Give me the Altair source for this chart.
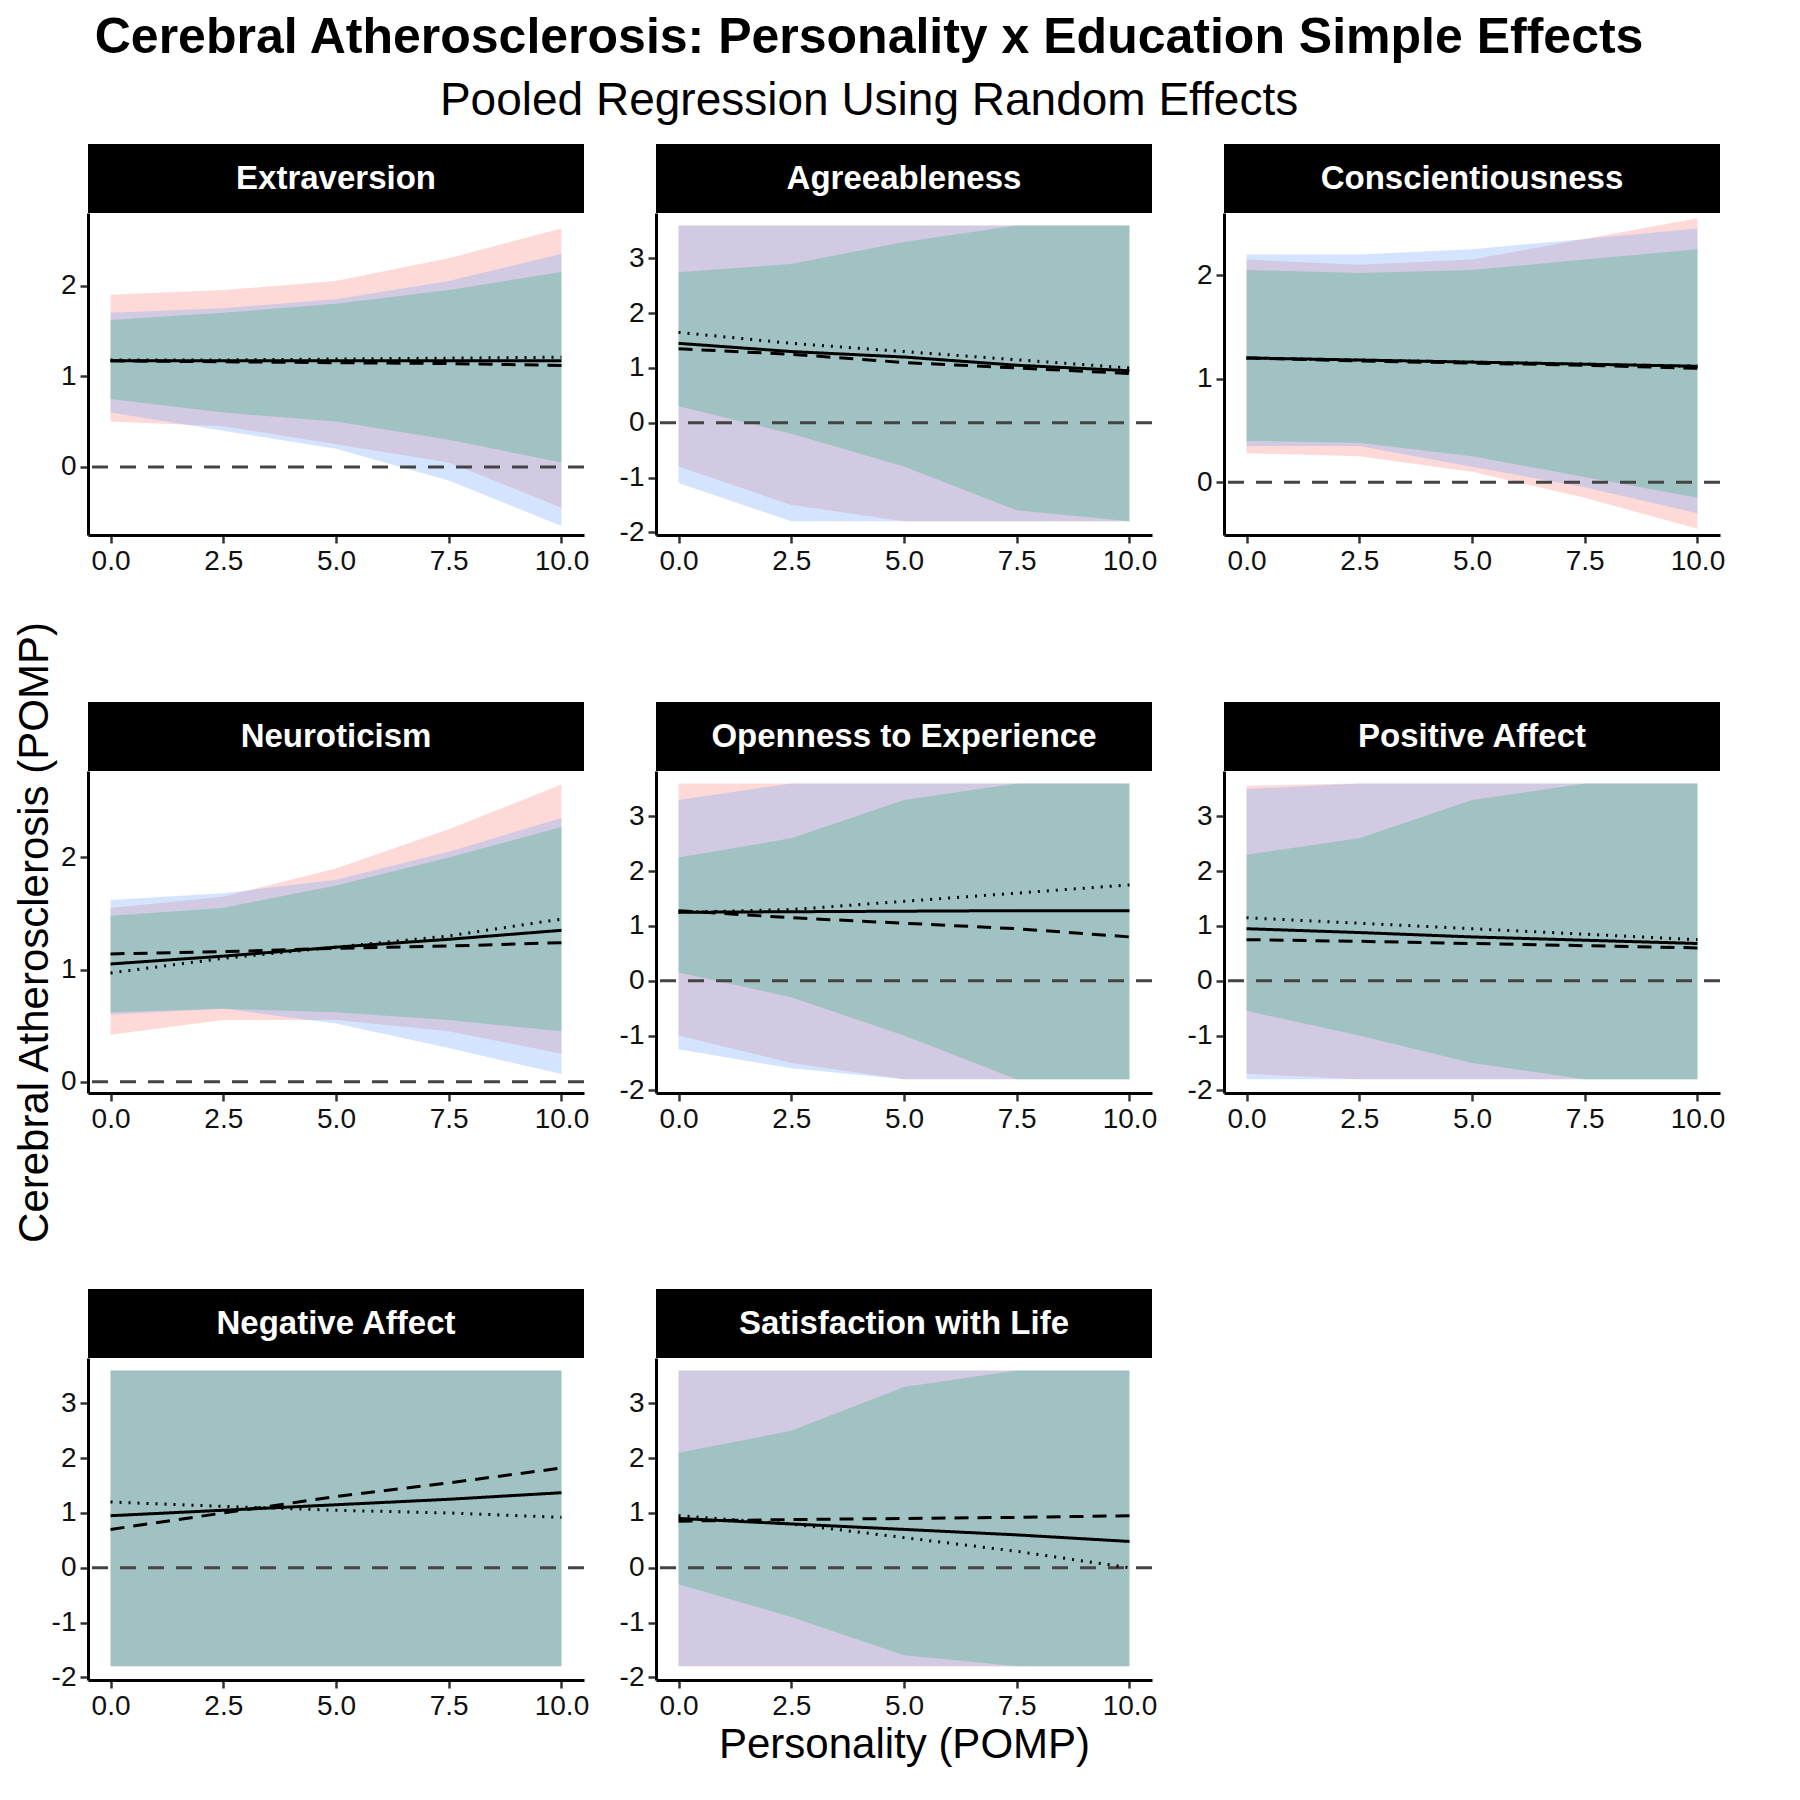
import altair as alt
import numpy as np
import pandas as pd

# x grid of the fitted lines / bands
xs = [0, 2.5, 5, 7.5, 10]
groups = ["-5 yrs", "12 years", "+5 yrs"]
fills = ["#F8766D", "#00BA38", "#619CFF"]
dashes = [[2, 7], [1, 0], [14, 9]]

panels = ["Extraversion", "Agreeableness", "Conscientiousness", "Neuroticism",
          "Openness to Experience", "Positive Affect", "Negative Affect",
          "Satisfaction with Life"]

# per panel: {group: (estimate, lower, upper)}
fits = {
    "Extraversion": {
        "-5 yrs": ([1.18, 1.18, 1.19, 1.20, 1.21], [0.50, 0.45, 0.25, 0.05, -0.45], [1.90, 1.95, 2.05, 2.30, 2.63]),
        "12 years": ([1.17, 1.17, 1.17, 1.17, 1.17], [0.75, 0.60, 0.50, 0.30, 0.05], [1.62, 1.70, 1.80, 1.95, 2.15]),
        "+5 yrs": ([1.17, 1.16, 1.15, 1.14, 1.12], [0.60, 0.40, 0.20, -0.15, -0.65], [1.70, 1.75, 1.85, 2.05, 2.35]),
    },
    "Agreeableness": {
        "-5 yrs": ([1.65, 1.45, 1.30, 1.15, 1.00], [-0.80, -1.50, -2.50, -3.00, -3.50], [4.50, 4.80, 5.00, 5.50, 6.00]),
        "12 years": ([1.45, 1.30, 1.20, 1.05, 0.95], [0.30, -0.20, -0.80, -1.60, -2.50], [2.75, 2.90, 3.30, 3.70, 4.00]),
        "+5 yrs": ([1.35, 1.25, 1.10, 1.00, 0.90], [-1.10, -1.80, -2.60, -3.20, -3.80], [4.50, 4.80, 5.00, 5.50, 6.00]),
    },
    "Conscientiousness": {
        "-5 yrs": ([1.20, 1.18, 1.16, 1.14, 1.12], [0.28, 0.25, 0.10, -0.15, -0.45], [2.15, 2.10, 2.15, 2.35, 2.55]),
        "12 years": ([1.20, 1.18, 1.16, 1.14, 1.12], [0.40, 0.38, 0.25, 0.05, -0.15], [2.05, 2.02, 2.05, 2.15, 2.25]),
        "+5 yrs": ([1.20, 1.17, 1.15, 1.13, 1.10], [0.35, 0.35, 0.15, -0.05, -0.30], [2.20, 2.20, 2.25, 2.35, 2.45]),
    },
    "Neuroticism": {
        "-5 yrs": ([0.97, 1.10, 1.20, 1.30, 1.45], [0.42, 0.55, 0.55, 0.45, 0.25], [1.55, 1.65, 1.90, 2.25, 2.65]),
        "12 years": ([1.05, 1.12, 1.20, 1.27, 1.35], [0.62, 0.65, 0.62, 0.55, 0.45], [1.48, 1.55, 1.75, 2.00, 2.27]),
        "+5 yrs": ([1.14, 1.16, 1.19, 1.21, 1.24], [0.60, 0.65, 0.52, 0.30, 0.07], [1.62, 1.68, 1.80, 2.05, 2.35]),
    },
    "Openness to Experience": {
        "-5 yrs": ([1.25, 1.30, 1.45, 1.60, 1.75], [-1.00, -1.50, -2.20, -3.00, -3.50], [4.00, 4.50, 5.00, 5.50, 6.00]),
        "12 years": ([1.25, 1.26, 1.27, 1.28, 1.28], [0.15, -0.30, -1.00, -1.80, -2.50], [2.25, 2.60, 3.30, 3.90, 4.50]),
        "+5 yrs": ([1.28, 1.15, 1.05, 0.95, 0.80], [-1.25, -1.60, -2.40, -3.00, -3.50], [3.30, 3.60, 4.00, 4.50, 5.00]),
    },
    "Positive Affect": {
        "-5 yrs": ([1.15, 1.05, 0.95, 0.85, 0.75], [-1.70, -2.30, -2.80, -3.30, -3.80], [3.56, 4.00, 4.50, 5.00, 5.50]),
        "12 years": ([0.95, 0.88, 0.80, 0.74, 0.68], [-0.55, -1.00, -1.50, -2.00, -2.50], [2.30, 2.60, 3.30, 3.80, 4.30]),
        "+5 yrs": ([0.75, 0.72, 0.68, 0.64, 0.60], [-1.90, -2.40, -2.90, -3.40, -3.90], [3.50, 3.70, 4.20, 4.70, 5.20]),
    },
    "Negative Affect": {
        "-5 yrs": ([1.20, 1.12, 1.05, 1.00, 0.92], [-3.0, -3.0, -3.0, -3.0, -3.0], [5.0, 5.0, 5.0, 5.0, 5.0]),
        "12 years": ([0.95, 1.05, 1.15, 1.25, 1.37], [-3.0, -3.0, -3.0, -3.0, -3.0], [5.0, 5.0, 5.0, 5.0, 5.0]),
        "+5 yrs": ([0.70, 1.00, 1.30, 1.55, 1.82], [-3.0, -3.0, -3.0, -3.0, -3.0], [5.0, 5.0, 5.0, 5.0, 5.0]),
    },
    "Satisfaction with Life": {
        "-5 yrs": ([0.95, 0.80, 0.55, 0.30, 0.00], [-2.50, -3.00, -3.50, -4.00, -4.50], [4.50, 5.00, 5.50, 6.00, 6.50]),
        "12 years": ([0.90, 0.80, 0.70, 0.60, 0.48], [-0.30, -0.90, -1.60, -2.40, -3.00], [2.10, 2.50, 3.30, 3.80, 4.50]),
        "+5 yrs": ([0.85, 0.88, 0.90, 0.92, 0.95], [-2.50, -3.00, -3.50, -4.00, -4.50], [4.50, 5.00, 5.50, 6.00, 6.50]),
    },
}

# y axis domain and ticks per panel
wide = ([-2.05, 3.83], [-2, -1, 0, 1, 2, 3])
ydomains = {
    "Extraversion": ([-0.75, 2.8], [0, 1, 2]),
    "Agreeableness": wide,
    "Conscientiousness": ([-0.51, 2.6], [0, 1, 2]),
    "Neuroticism": ([-0.1, 2.77], [0, 1, 2]),
    "Openness to Experience": wide,
    "Positive Affect": wide,
    "Negative Affect": wide,
    "Satisfaction with Life": wide,
}

W, H, STRIP = 496, 322, 69
FONT = "Liberation Sans"
OPA = 0.27


def make_panel(i, name):
    rows = []
    for g in groups:
        est, lo, hi = fits[name][g]
        for x, e, l, h in zip(xs, est, lo, hi):
            rows.append({"x": x, "grp": g, "est": e,
                         "lo": float(np.clip(l, -1.8, 3.6)),
                         "hi": float(np.clip(h, -1.8, 3.6))})
    df = pd.DataFrame(rows)
    dom, ticks = ydomains[name]

    xaxis = alt.Axis(values=xs, format=".1f", title="Personality (POMP)" if i == 7 else None)
    yaxis = alt.Axis(values=ticks, labelExpr="toString(datum.value)",
                     title="Cerebral Atherosclerosis (POMP)" if i == 3 else None)
    xenc = alt.X("x:Q", scale=alt.Scale(domain=[-0.5, 10.5], nice=False), axis=xaxis)
    yscale = alt.Scale(domain=dom, nice=False, zero=False)

    band = alt.Chart(df).mark_area(opacity=OPA).encode(
        x=xenc,
        y=alt.Y("lo:Q", scale=yscale, axis=yaxis),
        y2="hi:Q",
        color=alt.Color("grp:N", scale=alt.Scale(domain=groups, range=fills), legend=None),
    )
    zero = alt.Chart(alt.Data(values=[{"z": 0}])).mark_rule(
        color="#444444", strokeWidth=3, strokeDash=[16, 12]
    ).encode(y=alt.datum(0))
    lines = alt.Chart(df).mark_line(color="black", strokeWidth=3).encode(
        x=xenc,
        y="est:Q",
        strokeDash=alt.StrokeDash("grp:N", scale=alt.Scale(domain=groups, range=dashes), legend=None),
        detail="grp:N",
    )
    strip_data = alt.Data(values=[{"s": name}])
    strip = alt.Chart(strip_data).mark_rect(color="black", clip=False).encode(
        x=alt.value(0), x2=alt.value(W), y=alt.value(-STRIP), y2=alt.value(0)
    )
    label = alt.Chart(strip_data).mark_text(
        color="white", fontWeight="bold", fontSize=33, font=FONT, baseline="middle"
    ).encode(x=alt.value(W / 2), y=alt.value(-STRIP / 2), text="s:N")

    return alt.layer(band, zero, lines, strip, label).properties(width=W, height=H)


grid = alt.concat(*[make_panel(i, n) for i, n in enumerate(panels)], columns=3,
                  spacing={"row": 45, "column": 30})

# manual legend (x measured from the left edge of the plot grid)
leg_keys = pd.DataFrame({
    "grp": groups,
    "kx": [639, 848, 1106],
    "kx0": [614, 823, 1081],
    "kx1": [664, 873, 1131],
    "tx": [679, 909, 1161],
})
lx = alt.Scale(domain=[0, 1500], range=[0, 1500], nice=False)
leg_box = alt.Chart(leg_keys).mark_square(size=66 * 66, opacity=OPA).encode(
    x=alt.X("kx:Q", scale=lx, axis=None), y=alt.value(40),
    color=alt.Color("grp:N", scale=alt.Scale(domain=groups, range=fills), legend=None),
)
leg_line = alt.Chart(leg_keys).mark_rule(color="black", strokeWidth=3).encode(
    x=alt.X("kx0:Q", scale=lx, axis=None), x2="kx1:Q", y=alt.value(40),
    strokeDash=alt.StrokeDash("grp:N", scale=alt.Scale(domain=groups, range=dashes), legend=None),
)
leg_text = alt.Chart(leg_keys).mark_text(align="left", baseline="middle", fontSize=34, font=FONT).encode(
    x=alt.X("tx:Q", scale=lx, axis=None), y=alt.value(40), text="grp:N"
)
leg_title = alt.Chart(alt.Data(values=[{"t": "Education", "p": 379}])).mark_text(
    align="left", baseline="middle", fontSize=42, font=FONT
).encode(x=alt.X("p:Q", scale=lx, axis=None), y=alt.value(40), text="t:N")
legend = alt.layer(leg_box, leg_line, leg_text, leg_title).properties(width=1500, height=80)

chart = alt.vconcat(grid, legend, spacing=40).properties(
    title=alt.TitleParams(
        "Cerebral Atherosclerosis: Personality x Education Simple Effects",
        subtitle="Pooled Regression Using Random Effects",
        anchor="middle", fontSize=50, fontWeight="bold", subtitleFontSize=46,
        font=FONT, subtitleFont=FONT, color="black", subtitleColor="black",
        offset=20, subtitlePadding=16,
    )
).configure_view(stroke=None).configure_axis(
    grid=False, domainColor="black", domainWidth=3, tickColor="#333333", tickWidth=2.5,
    tickSize=8, labelFontSize=28, labelColor="#111111", labelFont=FONT, titleFont=FONT,
    titleFontSize=42, titleFontWeight="normal", titleColor="black", labelPadding=4,
).configure_concat(spacing=30)

chart.save("out.html", embed_options={"renderer": "svg", "actions": False})
